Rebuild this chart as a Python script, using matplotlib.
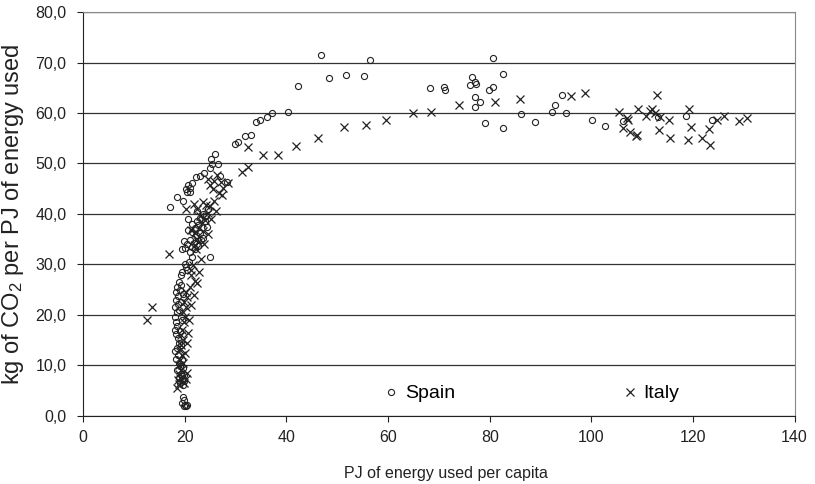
import matplotlib
matplotlib.use("Agg")
from matplotlib import pyplot as plt
from matplotlib.ticker import FuncFormatter, MultipleLocator

plt.rcParams['font.family'] = ['Liberation Sans', 'DejaVu Sans']
plt.rcParams['mathtext.default'] = 'regular'

# values
spain_x = [36.1, 37.1, 34.8, 34.0, 33.0, 31.8, 30.5, 29.8, 40.4, 42.3, 46.9, 48.4, 51.7,
           55.2, 56.4, 68.2, 71.0, 71.3, 76.6, 76.1, 77.1, 77.4, 77.1, 77.1, 78.1, 79.1,
           79.8, 80.7, 80.7, 82.7, 82.7, 86.1, 88.9, 92.8, 92.3, 94.3, 95.1, 100.2, 102.7,
           106.3, 113.1, 118.7, 123.8,
           26.0, 25.2, 26.6, 25.0, 25.3, 23.7, 23.0, 22.2, 26.9, 28.3, 21.4, 20.6, 20.2,
           21.0, 20.5, 21.0, 18.4, 19.7, 17.1, 20.7, 21.5, 22.4, 23.0, 23.6, 24.5, 22.5,
           20.7, 21.5, 22.2, 23.0, 23.6, 24.3, 22.0, 19.8, 20.4, 19.5, 20.1, 21.4, 22.0,
           22.6, 21.0, 25.0, 21.4, 20.8, 20.2, 19.5, 20.4, 19.2,
           18.8, 18.5, 18.2, 18.6, 18.3, 18.7, 18.1, 18.4, 18.0, 18.2, 18.5, 18.0, 18.3,
           18.6, 18.9, 18.4, 18.1, 18.6, 18.2, 18.8, 19.0, 18.5, 19.2, 18.9, 19.4, 19.0,
           19.6, 19.6, 19.8, 19.5, 20.0, 20.3, 19.9, 20.5,
           19.3, 19.0, 19.6, 19.2, 18.9, 19.4, 19.0, 19.3, 19.5, 19.7, 19.8, 19.5, 19.9,
           20.0, 21.0, 21.8, 23.2, 22.6, 23.9, 24.2]
spain_y = [59.3, 60.1, 58.6, 58.3, 55.6, 55.5, 54.2, 53.8, 60.3, 65.3, 71.4, 66.9, 67.5,
           67.3, 70.5, 64.9, 65.1, 64.6, 67.2, 65.5, 66.1, 65.7, 63.1, 61.2, 62.2, 58.0,
           64.6, 65.1, 71.0, 67.7, 57.1, 59.9, 58.2, 61.6, 60.3, 63.5, 60.1, 58.6, 57.4,
           58.5, 59.2, 59.5, 58.6,
           51.9, 50.8, 49.9, 49.2, 49.9, 48.2, 47.5, 47.3, 47.5, 46.4, 46.1, 45.7, 45.0,
           45.2, 44.4, 44.3, 43.4, 42.6, 41.4, 38.9, 38.0, 38.5, 39.2, 40.0, 41.0, 40.5,
           36.8, 36.5, 35.8, 36.2, 35.3, 37.5, 37.2, 34.6, 34.0, 33.0, 33.2, 33.5, 33.0,
           33.6, 34.8, 31.5, 31.5, 30.5, 29.5, 28.5, 28.8, 27.8,
           26.5, 25.5, 24.5, 23.8, 23.0, 22.2, 21.5, 20.5, 19.5, 18.5, 17.7, 17.0, 16.2,
           15.5, 14.5, 13.5, 12.8, 12.0, 11.3, 10.5, 9.8, 9.0, 8.3, 7.5, 7.0, 6.5,
           6.0, 3.8, 3.2, 2.6, 2.2, 1.9, 2.0, 2.1,
           26.0, 25.0, 24.2, 22.6, 21.0, 19.0, 16.8, 14.0, 11.0, 9.5, 8.0, 7.8, 6.8,
           30.0, 32.5, 34.2, 34.8, 37.8, 38.6, 39.5]

italy_x = [35.3, 38.3, 41.8, 46.3, 51.3, 55.7, 59.5, 64.9, 68.4, 73.9, 81.0, 86.0, 95.9,
           98.7, 105.4, 106.3, 107.0, 107.2, 107.7, 108.7, 109.0, 109.1, 110.8, 111.6,
           112.0, 112.6, 112.9, 113.6, 113.3, 115.2, 115.4, 119.0, 119.3, 119.7, 121.7,
           123.3, 123.1, 124.7, 126.1, 129.1, 130.6, 31.2, 32.4, 32.5,
           26.3, 24.5, 25.0, 25.5, 27.2, 27.5, 28.5, 26.8, 27.3, 25.8, 20.2, 21.8, 23.5,
           24.2, 22.5, 24.5, 25.0, 23.0, 23.3, 24.0, 22.8, 22.0, 21.3, 23.5, 22.5, 22.0,
           22.3, 22.6, 16.8, 21.6, 21.2, 21.2, 22.0, 22.5, 21.0, 20.3, 20.5, 19.9, 20.2,
           19.7, 20.0, 19.8, 19.4, 19.2, 19.6, 19.3, 19.0, 19.5, 19.1, 18.9, 19.2, 18.8,
           19.0, 18.6, 18.8, 18.5, 12.5, 13.6,
           20.5, 20.3, 19.9, 19.6, 20.1, 20.4, 20.6, 20.9, 21.3, 21.8, 22.8, 23.1, 23.8,
           24.6, 25.2, 25.8, 26.2]
italy_y = [51.7, 51.7, 53.4, 55.1, 57.2, 57.7, 58.7, 60.1, 60.3, 61.6, 62.2, 62.8, 63.4,
           63.9, 60.2, 57.1, 59.1, 58.6, 56.3, 55.5, 55.7, 60.7, 59.4, 60.4, 60.7, 60.0,
           63.6, 59.3, 56.7, 58.7, 55.0, 54.7, 60.7, 57.3, 55.0, 53.6, 56.9, 58.7, 59.4,
           58.5, 59.1, 48.4, 49.3, 53.2,
           47.7, 47.0, 45.8, 45.0, 46.3, 45.2, 46.2, 44.2, 43.8, 46.5, 41.0, 42.0, 42.3,
           41.8, 41.0, 40.2, 41.5, 39.5, 38.2, 38.8, 37.3, 36.2, 36.8, 36.7, 35.0, 33.8,
           33.1, 34.5, 32.0, 29.8, 28.8, 27.8, 26.8, 26.3, 25.5, 24.5, 23.5, 22.5, 21.5,
           20.5, 19.5, 18.5, 17.0, 16.0, 15.0, 14.0, 13.0, 12.0, 11.0, 10.0, 9.0, 8.3,
           7.5, 7.0, 6.2, 5.5, 19.0, 21.6,
           8.5, 7.2, 6.5, 10.5, 12.5, 14.5, 16.5, 19.0, 22.0, 24.0, 28.5, 31.0, 34.0,
           36.0, 39.0, 42.5, 40.5]

fig = plt.figure(figsize=(8.15, 4.84), dpi=100)
ax = fig.add_axes([0.102, 0.141, 0.873, 0.834])

ax.plot(spain_x, spain_y, linestyle='none', marker='o', markersize=4.4,
        markerfacecolor='none', markeredgecolor='#222222', markeredgewidth=0.8,
        label='Spain')
ax.plot(italy_x, italy_y, linestyle='none', marker='x', markersize=6,
        color='#222222', markeredgewidth=0.9, label='Italy')

ax.set_xlim(0, 140)
ax.set_ylim(0, 80)
ax.xaxis.set_major_locator(MultipleLocator(20))
ax.yaxis.set_major_locator(MultipleLocator(10))
ax.yaxis.set_major_formatter(FuncFormatter(lambda v, p: f"{v:.1f}".replace('.', ',')))
ax.grid(axis='y', color='#333333', linewidth=0.9)
ax.set_axisbelow(True)

for side in ['top', 'right']:
    ax.spines[side].set_color('#888888')
for side in ['left', 'bottom']:
    ax.spines[side].set_color('#222222')
ax.tick_params(labelsize=11.5, colors='#222222', length=4, width=0.8)
ax.tick_params(axis='y', pad=8)
ax.tick_params(axis='x', pad=6)

ax.set_xlabel('PJ of energy used per capita', fontsize=11.5, color='#222222')
ax.xaxis.set_label_coords(0.51, -0.125)
ax.set_ylabel('kg of CO$_2$ per PJ of energy used', fontsize=17, color='#222222',
              labelpad=7)

ax.legend(loc='center left', bbox_to_anchor=(0.395, 0.055), ncol=2, frameon=False,
          fontsize=14, columnspacing=8.5, handletextpad=0.2, handlelength=1.0)

plt.savefig('out.png', dpi=100)
